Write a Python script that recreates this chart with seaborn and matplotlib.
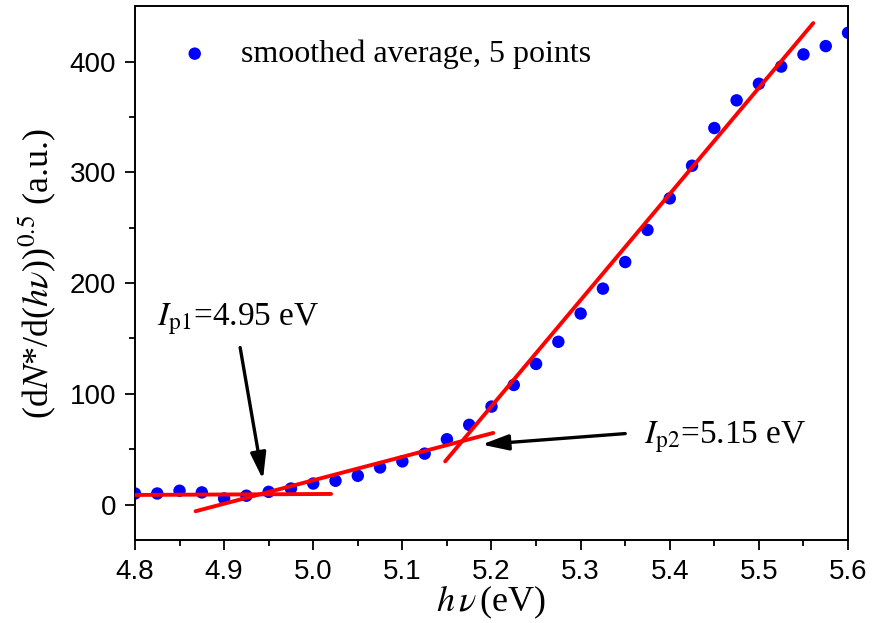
import numpy as np
import pandas as pd
import matplotlib
matplotlib.use("Agg")
import matplotlib.pyplot as plt
import seaborn as sns

# Photon energy (eV) and smoothed yield values
energy = [4.800, 4.825, 4.850, 4.875, 4.900, 4.925, 4.950, 4.975, 5.000, 5.025,
          5.050, 5.075, 5.100, 5.125, 5.150, 5.175, 5.200, 5.225, 5.250, 5.275,
          5.300, 5.325, 5.350, 5.375, 5.400, 5.425, 5.450, 5.475, 5.500, 5.525,
          5.550, 5.575, 5.600]
yield_sqrt = [10, 10, 12.5, 11, 5.5, 8, 11.5, 14.5, 19, 21.5,
              26, 33.5, 39, 46, 59, 72, 88.5, 108, 127, 147,
              172.5, 195, 219, 248, 276.5, 306, 340, 365, 380, 395.5,
              406.5, 414, 426]

# Linear fit segments (x endpoints, y endpoints)
fit1_x = [4.800, 5.020]
fit1_y = [8.7, 9.6]
fit2_x = [4.868, 5.202]
fit2_y = [-6.0, 64.7]
fit3_x = [5.148, 5.561]
fit3_y = [39.0, 434.8]

xticks = [4.8, 4.9, 5.0, 5.1, 5.2, 5.3, 5.4, 5.5, 5.6]
yticks = [0, 100, 200, 300, 400]

sns.set_style("ticks")
plt.rcParams["font.family"] = ["Liberation Sans", "DejaVu Sans"]
plt.rcParams["mathtext.fontset"] = "stix"
for key in ("text.color", "axes.labelcolor", "xtick.color", "ytick.color",
            "axes.edgecolor"):
    plt.rcParams[key] = "black"

fig = plt.figure(figsize=(8.73, 6.23), dpi=100)
ax = fig.add_axes([0.1546, 0.1332, 0.8168, 0.8568])

df = pd.DataFrame({"E": energy, "Y": yield_sqrt})
sns.scatterplot(data=df, x="E", y="Y", ax=ax, color="#0000ff", s=80,
                edgecolor="none", label="smoothed average, 5 points", zorder=2)

for fx, fy in [(fit1_x, fit1_y), (fit2_x, fit2_y), (fit3_x, fit3_y)]:
    sns.lineplot(x=fx, y=fy, ax=ax, color="#ff0000", lw=2.8, sort=False,
                 estimator=None, zorder=3)

ax.set_xlim(4.8, 5.6)
ax.set_ylim(-32, 450)
ax.set_xticks(xticks)
ax.set_xticklabels([f"{v:.1f}" for v in xticks])
ax.set_yticks(yticks)
ax.set_xticks(np.arange(4.85, 5.6, 0.1), minor=True)
ax.set_yticks([50, 150, 250, 350], minor=True)
ax.tick_params(axis="both", which="major", direction="out", length=7.5, width=1.3,
               labelsize=20, pad=6, colors="black")
ax.tick_params(axis="both", which="minor", direction="out", length=4.5, width=1.3,
               colors="black")
for sp in ax.spines.values():
    sp.set_linewidth(1.4)
    sp.set_color("black")

serif = ["Liberation Serif", "DejaVu Serif"]
ax.set_xlabel(r"$h\,\nu\,$(eV)", fontsize=26, family=serif, labelpad=-1)
ax.set_ylabel(r"(d$N$*/d($h\nu$))$^{0.5}$ (a.u.)", fontsize=26, family=serif,
              labelpad=8)

ax.legend(loc="center left", frameon=False, prop={"family": serif, "size": 23},
          handletextpad=0.45, borderaxespad=0, borderpad=0,
          bbox_to_anchor=(0.039, 0.91))

arrow_style = dict(arrowstyle="-|>,head_length=1.6,head_width=0.47",
                   color="black", lw=2.4, shrinkA=0, shrinkB=0,
                   mutation_scale=10)

# First threshold: label and arrow
ax.text(4.825, 162, r"$I_{\mathrm{p1}}$=4.95 eV", fontsize=24, family=serif,
        ha="left", va="baseline")
ax.annotate("", xy=(4.9436, 22.6), xytext=(4.918, 141.8), arrowprops=arrow_style)

# Second threshold: label and arrow
ax.annotate("", xy=(5.189, 54.2), xytext=(5.350, 64.1), arrowprops=arrow_style)
ax.text(5.371, 55, r"$I_{\mathrm{p2}}$=5.15 eV", fontsize=24, family=serif,
        ha="left", va="baseline")

fig.savefig("out.png", dpi=100)
